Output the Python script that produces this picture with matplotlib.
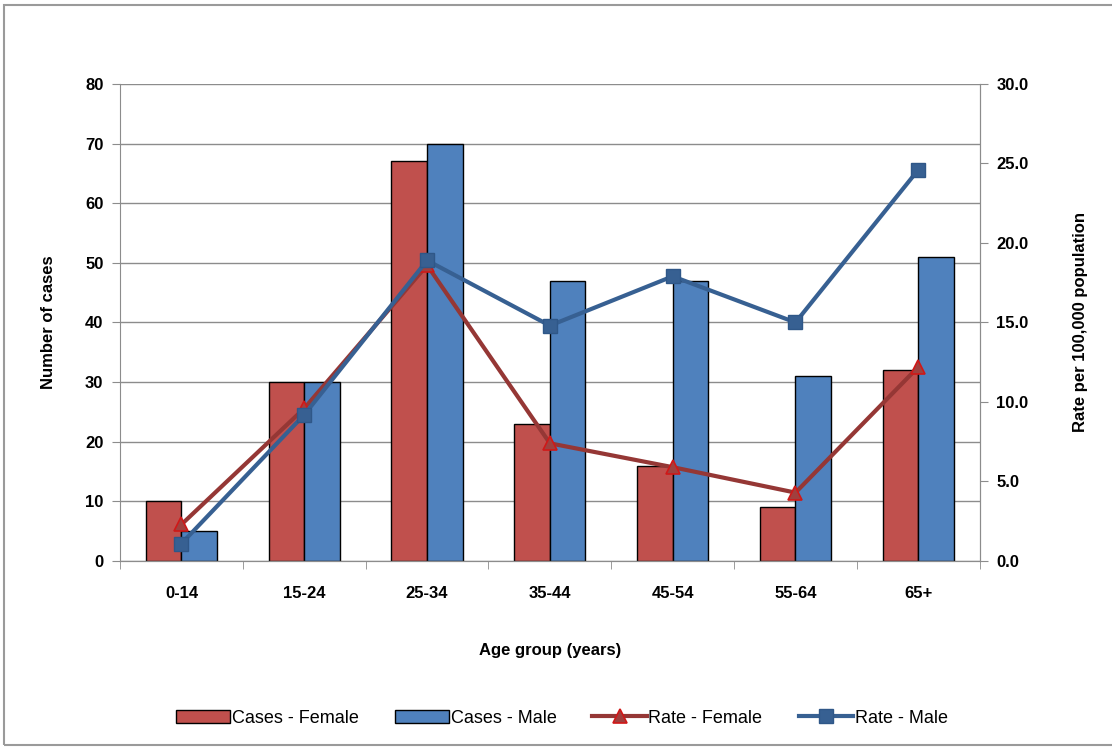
import numpy as np
import matplotlib.pyplot as plt
from matplotlib.patches import Rectangle

plt.rcParams['font.family'] = ['Liberation Sans Narrow', 'Liberation Sans', 'DejaVu Sans']

age_groups = ['0-14', '15-24', '25-34', '35-44', '45-54', '55-64', '65+']
cases_female = [10, 30, 67, 23, 16, 9, 32]
cases_male = [5, 30, 70, 47, 47, 31, 51]
rate_female = [2.3, 9.6, 18.6, 7.4, 5.9, 4.3, 12.2]
rate_male = [1.1, 9.2, 18.9, 14.8, 17.9, 15.0, 24.6]

fig = plt.figure(figsize=(11.12, 7.49), dpi=100)
# outer chart frame
fig.patches.append(Rectangle((0.004, 0.005), 1.2, 0.988, transform=fig.transFigure,
                             fill=False, edgecolor='#9a9a9a', linewidth=1.5))

ax = fig.add_axes([0.108, 0.251, 0.773, 0.637])
ax2 = ax.twinx()

x = np.arange(len(age_groups))
w = 0.29
ax.bar(x - w / 2, cases_female, w, color='#C0504D', edgecolor='black', linewidth=1.0,
       label='Cases - Female', zorder=2)
ax.bar(x + w / 2, cases_male, w, color='#4F81BD', edgecolor='black', linewidth=1.0,
       label='Cases - Male', zorder=2)

ax2.plot(x, rate_female, color='#953735', linewidth=3, marker='^', markersize=10,
         markerfacecolor='#A0403E', markeredgecolor='#D01818', markeredgewidth=1.2,
         label='Rate - Female')
ax2.plot(x, rate_male, color='#376092', linewidth=3, marker='s', markersize=10,
         markerfacecolor='#376092', markeredgecolor='#2F5788',
         label='Rate - Male')

ax.set_xlim(-0.5, len(age_groups) - 0.5)
ax.set_ylim(0, 80)
ax.set_yticks(range(0, 81, 10))
ax2.set_ylim(0, 30)
ax2.set_yticks(np.arange(0, 30.1, 5))
ax2.set_yticklabels([f'{v:.1f}' for v in np.arange(0, 30.1, 5)])

ax.grid(axis='y', color='#8c8c8c', linewidth=1.0, zorder=0)
ax.set_axisbelow(True)

ax.set_xticks(x)
ax.set_xticklabels(age_groups)
ax.tick_params(axis='x', length=0, pad=18, labelsize=12)
ax.set_xticks(np.arange(-0.5, len(age_groups), 1), minor=True)
ax.tick_params(axis='x', which='minor', length=6, color='#8c8c8c')

for a in (ax, ax2):
    for s in a.spines.values():
        s.set_color('#8c8c8c')
    a.spines['top'].set_visible(False)
ax2.spines['left'].set_visible(False)

ax.tick_params(axis='y', length=6, color='#8c8c8c', labelsize=12, pad=6)
ax2.tick_params(axis='y', length=6, color='#8c8c8c', labelsize=12, pad=6)
for lbl in ax.get_yticklabels() + ax.get_xticklabels() + ax2.get_yticklabels():
    lbl.set_fontweight('bold')

ax.set_ylabel('Number of cases', fontsize=12, fontweight='bold', labelpad=21)
ax2.set_ylabel('Rate per 100,000 population', fontsize=12, fontweight='bold', labelpad=32)
ax.set_xlabel('Age group (years)', fontsize=12, fontweight='bold', labelpad=30)

h1, l1 = ax.get_legend_handles_labels()
h2, l2 = ax2.get_legend_handles_labels()
fig.legend(h1 + h2, l1 + l2, loc='center', bbox_to_anchor=(0.505, 0.041), ncol=4,
           frameon=False, fontsize=13, handlelength=3.0, handletextpad=0.1,
           columnspacing=2.0)

fig.savefig('out.png', dpi=100)
